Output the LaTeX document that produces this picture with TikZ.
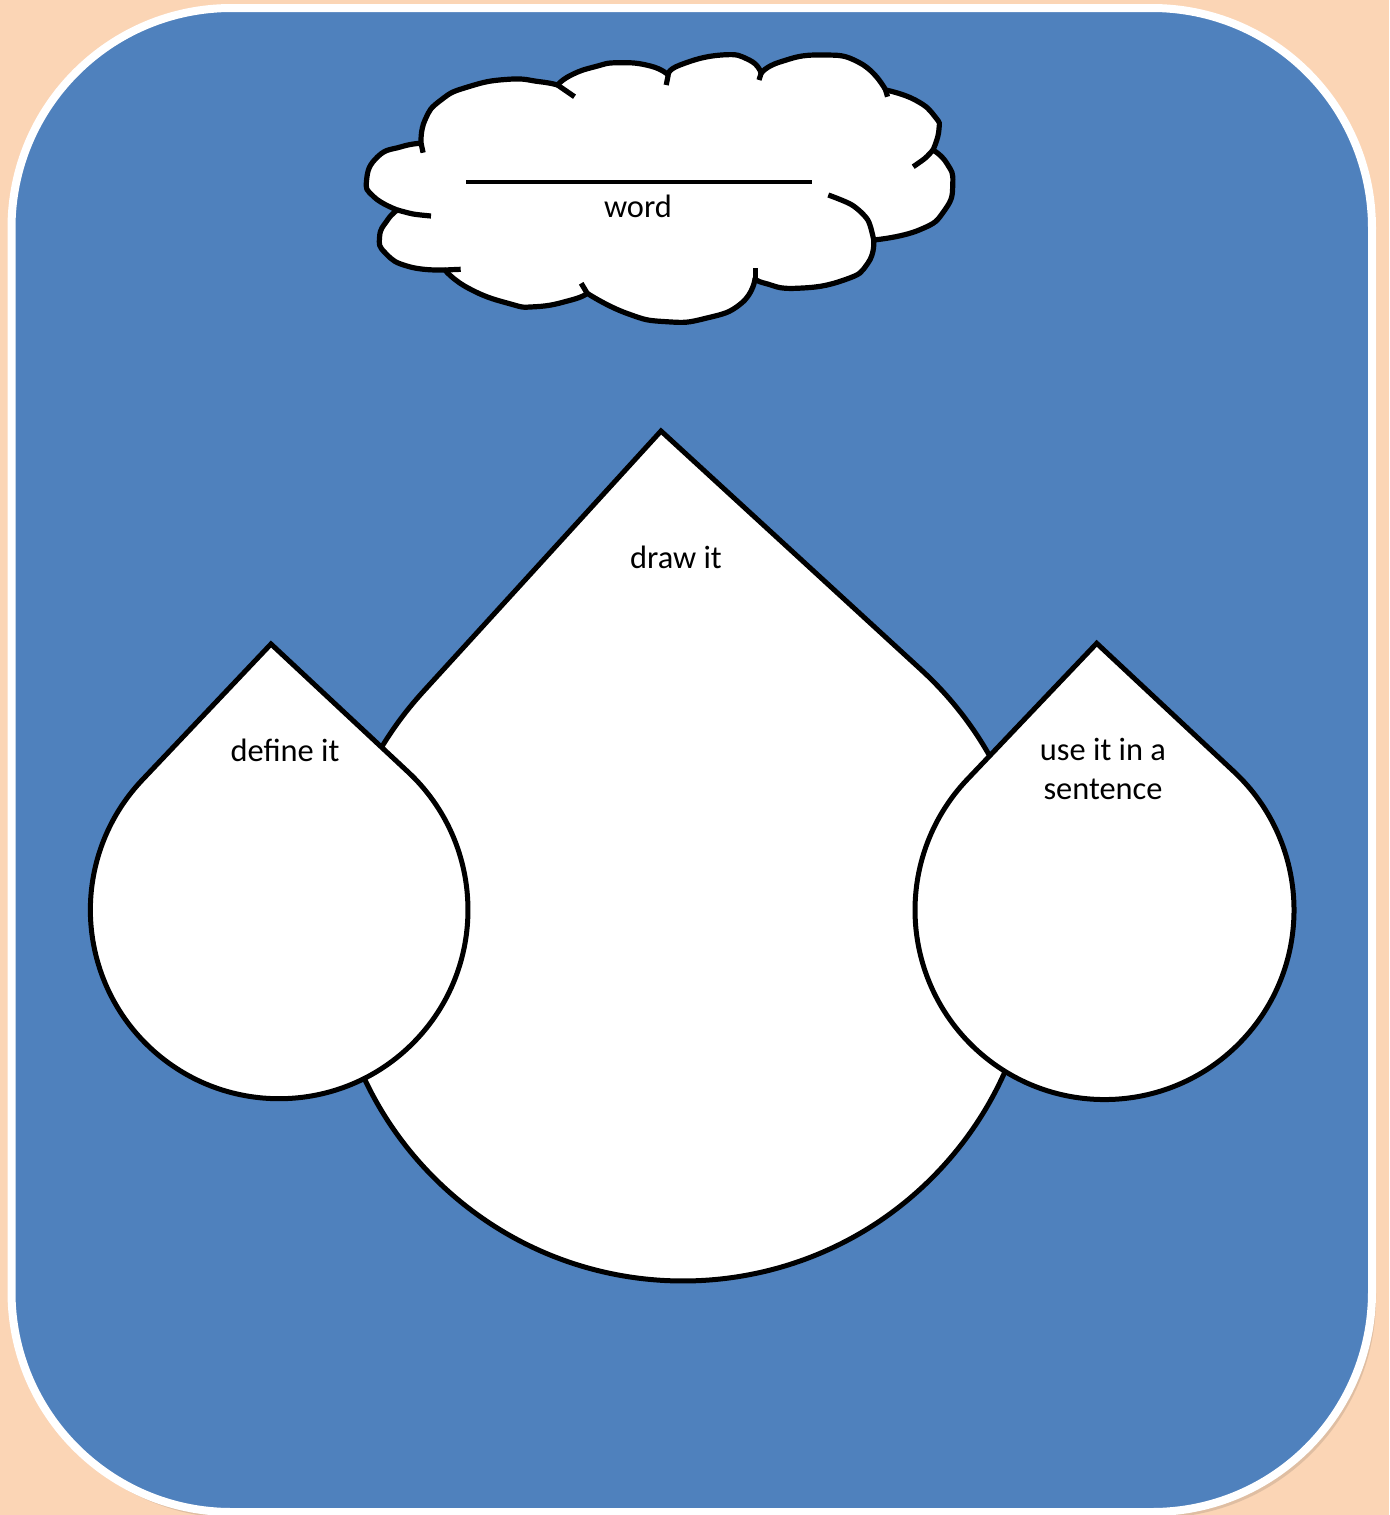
\documentclass[tikz,border=0pt]{standalone}
\usepackage{fontspec}
\setmainfont{Carlito}
\definecolor{peach}{RGB}{251,213,181}
\definecolor{panelblue}{RGB}{79,129,189}
\definecolor{shadowc}{RGB}{205,175,150}
\tikzset{
  drop/.style={draw=black, line width=2.5pt, fill=white, line join=miter},
  cloudedge/.style={draw=black, line width=2.6pt, fill=white, line join=round},
  cloudtick/.style={draw=black, line width=2.6pt},
  lbl/.style={font=\fontsize{16.2}{19.5}\selectfont, align=center, inner sep=0pt, text=black}
}
\begin{document}
\begin{tikzpicture}[x=0.5pt, y=-0.5pt]
\useasboundingbox (0,0) rectangle (1389,1515);
\fill[peach] (0,0) rectangle (1389,1515);
% panel with shadow
\fill[shadowc, opacity=0.6, rounded corners=110pt] (14.5,11) rectangle (1376,1518);
\draw[white, line width=4pt, fill=panelblue, rounded corners=110pt] (11.5,8) rectangle (1372,1512);

% cloud
\path[cloudedge]
  plot[smooth, tension=0.9] coordinates {(421.1,143.3) (425,120) (441,100) (468.6,86.7) (508.1,79.3) (539.7,81.7) (557.5,85)}
  -- plot[smooth, tension=0.9] coordinates {(557.5,85) (571.3,75) (595,66.7) (618.8,62.7) (650.4,66) (668.2,75)}
  -- plot[smooth, tension=0.9] coordinates {(668.2,75) (680,65) (721.5,55) (749.2,60) (761.1,73.3)}
  -- plot[smooth, tension=0.9] coordinates {(761.1,73.3) (780,62) (820.4,55) (860,63) (885.6,90)}
  -- plot[smooth, tension=0.9] coordinates {(885.6,90) (915.2,100) (935,116.7) (938.9,130) (933,150)}
  -- plot[smooth, tension=0.9] coordinates {(933,150) (946.8,163.3) (952.8,183.3) (944.8,210) (919.2,230) (873.7,240)}
  -- plot[smooth, tension=0.9] coordinates {(873.7,240) (867.8,263.3) (844.1,280) (796.6,288.3) (765,283.3) (755.1,278.3)}
  -- plot[smooth, tension=0.9] coordinates {(755.1,278.3) (741.3,303.3) (705.7,318.3) (666.2,321.7) (626.7,313.3) (587.2,293.3)}
  -- plot[smooth, tension=0.9] coordinates {(587.2,293.3) (571.3,300) (535.8,306.7) (508.1,303.3) (468.6,288.3) (444.9,270)}
  -- plot[smooth, tension=0.9] coordinates {(444.9,270) (409.3,266.7) (385.6,253.3) (379.6,236.7) (387.5,220) (397.4,210)}
  -- plot[smooth, tension=0.9] coordinates {(397.4,210) (373.7,196.7) (366.6,180) (377.7,156.7) (401.4,146.7) (421.1,143.3)}
  -- cycle;
% cloud inner ticks
\coordinate (t1a) at (421.1,143.3); \coordinate (t1b) at (423.1,152.7);
\coordinate (t2a) at (557.5,85);    \coordinate (t2b) at (574.5,96.7);
\coordinate (t3a) at (668.2,75);    \coordinate (t3b) at (666.2,85);
\coordinate (t4a) at (761.1,73.3);  \coordinate (t4b) at (759,80);
\coordinate (t5a) at (885.6,90);    \coordinate (t5b) at (887.5,96.7);
\coordinate (t6a) at (933,150);     \coordinate (t6b) at (913.2,166.7);
\coordinate (t8a) at (755.1,278.3); \coordinate (t8b) at (755.1,268.3);
\coordinate (t9a) at (587.2,293.3); \coordinate (t9b) at (581.2,283.3);
\coordinate (t10a) at (444.9,270);  \coordinate (t10b) at (460.7,269.3);
\draw[cloudtick] (t1a) -- (t1b);
\draw[cloudtick] (t2a) -- (t2b);
\draw[cloudtick] (t3a) -- (t3b);
\draw[cloudtick] (t4a) -- (t4b);
\draw[cloudtick] (t5a) -- (t5b);
\draw[cloudtick] plot[smooth] coordinates {(t6a) (925,158.3) (t6b)};
\draw[cloudtick] plot[smooth] coordinates {(873.7,240) (867.8,220) (852,205) (828.3,195)};
\draw[cloudtick] (t8a) -- (t8b);
\draw[cloudtick] (t9a) -- (t9b);
\draw[cloudtick] (t10a) -- (t10b);
\draw[cloudtick] plot[smooth] coordinates {(397.4,210) (413.2,214) (431,216)};

% word line and label
\coordinate (wl) at (466,182);
\coordinate (wr) at (812,182);
\draw[black, line width=1.8pt] (wl) -- (wr);
\node[lbl] (word) at (638,206) {word};

% big drop
\coordinate (bigtip) at (661,431);
\coordinate (bigtan) at (921.1,669.7);
\path[drop] (bigtip) -- (bigtan) arc[start angle=312.55, end angle=582.39, radius=352] -- cycle;
\node[lbl] (draw) at (676,557) {draw it};

% left drop
\coordinate (ltip) at (271,644);
\coordinate (ltan) at (408,771.9);
\path[drop] (ltip) -- (ltan) arc[start angle=313.03, end angle=583.53, radius=188.8] -- cycle;
\node[lbl] (define) at (285,750) {define it};

% right drop
\coordinate (rtip) at (1096.7,643.3);
\coordinate (rtan) at (1233.9,771.6);
\path[drop] (rtip) -- (rtan) arc[start angle=313.06, end angle=583.58, radius=189.5] -- cycle;
\node[lbl] (use) at (1103,769) {use it in a\\sentence};
\end{tikzpicture}
\end{document}
